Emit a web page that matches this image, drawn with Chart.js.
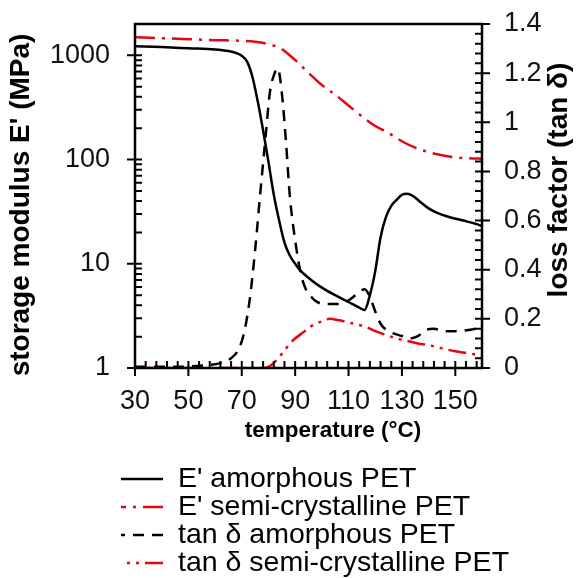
<!DOCTYPE html>
<html>
<head>
<meta charset="utf-8">
<script src="https://cdn.jsdelivr.net/npm/chart.js@4.4.1/dist/chart.umd.min.js"></script>
<style>
  html, body { margin: 0; padding: 0; background: #fff; }
</style>
</head>
<body>
<canvas id="dmaChart" width="576" height="578"></canvas>
<script>
// data
const tempEAm = [30,40,50,60,65,68,70,72,74,76,78,80,82,84,86,88,90,92,96,100,105,110,114,116,118,120,122,124,126,128,130,132,134,137,140,143,148,153,158,160];
const eAmorphous = [1220,1200,1170,1140,1100,1050,990,870,620,360,190,95,46,26,16,12,10,8.6,7,5.9,5,4.3,3.8,3.6,5,8.5,18,28,36,41,46,47,45,39,34,31,28,26,24,23];

const tempESc = [30,40,50,60,70,75,80,85,90,95,100,105,110,115,120,125,130,135,140,145,150,155,160];
const eSemi = [1490,1460,1430,1400,1380,1350,1280,1150,900,680,520,420,330,260,210,180,150,130,118,110,105,103,102];

const tempTAm = [30,45,55,62,66,69,71,73,75,77,79,80.5,82,83.5,85,86.5,88,90,92,94,96,98,101,106,110,113,116,118,120,122,125,130,133,136,139,142,146,150,155,160];
const tanAmorphous = [0.005,0.005,0.01,0.02,0.04,0.08,0.15,0.28,0.48,0.72,0.95,1.12,1.19,1.22,1.12,0.93,0.70,0.52,0.39,0.32,0.29,0.27,0.26,0.26,0.275,0.3,0.32,0.29,0.23,0.18,0.15,0.13,0.12,0.13,0.155,0.16,0.15,0.15,0.155,0.165];

const tempTSc = [30,78,80,82,84,86,88,90,93,96,100,103,106,110,114,117,120,124,128,132,136,140,145,150,155,160];
const tanSemi = [0,0,0.005,0.02,0.045,0.07,0.1,0.12,0.145,0.17,0.19,0.2,0.195,0.185,0.175,0.165,0.15,0.135,0.12,0.11,0.1,0.093,0.08,0.068,0.06,0.05];

const xTicks = [30,50,70,90,110,130,150];
const yTicks = [1,10,100,1000];
const y2Ticks = [0,0.2,0.4,0.6,0.8,1,1.2,1.4];

const legendLabels = ["E' amorphous PET", "E' semi-crystalline PET", "tan \u03b4 amorphous PET", "tan \u03b4 semi-crystalline PET"];

const FONT = '"Liberation Sans", Arial, sans-serif';
const RED = '#e30613';
const DASH_DOT = [20, 7, 3, 7];
const DASH = [11, 8];
const DASH_DOT_DOT = [18, 6, 3, 6, 3, 6];

Chart.defaults.font.family = FONT;
Chart.defaults.color = '#111';

function pts(xs, ys) {
    return xs.map((t, i) => ({ x: t, y: ys[i] }));
}

// fixed box for a vertical axis, no extra room for the end labels
function fixWidth(w) {
    return s => {
        s.width = w;
        s.paddingTop = 0;
        s.paddingBottom = 0;
    };
}

// frame + tick marks (majors cross the axis, minors point inwards)
const frameTicks = {
    id: 'frameTicks',
    afterDatasetsDraw(chart) {
        const { ctx, chartArea: a, scales: { x, y, y2 } } = chart;
        ctx.save();
        ctx.strokeStyle = '#000';
        ctx.lineWidth = 2;
        ctx.beginPath();
        for (let t = 30; t < 160; t += 4) {
            const px = x.getPixelForValue(t);
            const major = xTicks.includes(t);
            ctx.moveTo(px, a.bottom + (major ? 8 : 0));
            ctx.lineTo(px, a.bottom - 7);
        }
        for (let d = 1; d <= 1000; d *= 10) {
            for (let m = 1; m <= 9; m++) {
                const v = d * m;
                if (v > 1000) break;
                const py = y.getPixelForValue(v);
                ctx.moveTo(a.left - (m === 1 ? 8 : 0), py);
                ctx.lineTo(a.left + 7, py);
            }
        }
        for (let i = 0; i <= 35; i++) {
            const v = i * 0.04;
            const py = y2.getPixelForValue(v);
            const major = i % 5 === 0;
            ctx.moveTo(a.right - 7, py);
            ctx.lineTo(a.right + (major ? 8 : 0), py);
        }
        ctx.stroke();
        ctx.lineWidth = 2.5;
        ctx.strokeRect(a.left, a.top, a.right - a.left, a.bottom - a.top);
        ctx.restore();
    }
};

// axis titles and the legend block under the plot
const titlesLegend = {
    id: 'titlesLegend',
    afterDraw(chart) {
        const ctx = chart.ctx;
        ctx.save();
        ctx.fillStyle = '#000';
        ctx.textAlign = 'center';
        ctx.textBaseline = 'middle';
        ctx.font = 'bold 22.5px ' + FONT;
        ctx.fillText('temperature (\u00b0C)', 333, 431);

        ctx.font = 'bold 28px ' + FONT;
        ctx.save();
        ctx.translate(21, 205);
        ctx.rotate(-Math.PI / 2);
        ctx.fillText("storage modulus E' (MPa)", 0, 0);
        ctx.restore();
        ctx.save();
        ctx.translate(559, 180);
        ctx.rotate(-Math.PI / 2);
        ctx.fillText('loss factor (tan \u03b4)', 0, 0);
        ctx.restore();

        const styles = [
            { color: '#000', dash: [] },
            { color: RED, dash: DASH_DOT },
            { color: '#000', dash: DASH },
            { color: RED, dash: DASH_DOT_DOT }
        ];
        ctx.font = '28.5px ' + FONT;
        ctx.textAlign = 'left';
        legendLabels.forEach((txt, i) => {
            const yy = 479 + i * 28;
            ctx.strokeStyle = styles[i].color;
            ctx.lineWidth = 2.5;
            ctx.setLineDash(styles[i].dash);
            ctx.beginPath();
            ctx.moveTo(163, yy);
            ctx.lineTo(121, yy);
            ctx.stroke();
            ctx.setLineDash([]);
            ctx.fillStyle = '#000';
            ctx.fillText(txt, 178, yy);
        });
        ctx.restore();
    }
};

const ctx = document.getElementById('dmaChart');

new Chart(ctx, {
    type: 'line',
    data: {
        datasets: [{
            label: legendLabels[0],
            data: pts(tempEAm, eAmorphous),
            yAxisID: 'y',
            borderColor: '#000',
            borderWidth: 2.5
        },
        {
            label: legendLabels[1],
            data: pts(tempESc, eSemi),
            yAxisID: 'y',
            borderColor: RED,
            borderWidth: 2.5,
            borderDash: DASH_DOT
        },
        {
            label: legendLabels[2],
            data: pts(tempTAm, tanAmorphous),
            yAxisID: 'y2',
            borderColor: '#000',
            borderWidth: 2.5,
            borderDash: DASH
        },
        {
            label: legendLabels[3],
            data: pts(tempTSc, tanSemi),
            yAxisID: 'y2',
            borderColor: RED,
            borderWidth: 2.5,
            borderDash: DASH_DOT_DOT
        }]
    },
    options: {
        responsive: false,
        animation: false,
        layout: { padding: { top: 24, left: 0, right: 0, bottom: 0 } },
        elements: {
            point: { radius: 0 },
            line: { cubicInterpolationMode: 'monotone', fill: false }
        },
        plugins: {
            legend: { display: false },
            tooltip: { enabled: false }
        },
        scales: {
            x: {
                type: 'linear',
                min: 30,
                max: 160,
                grid: { display: false, drawTicks: false },
                border: { display: false },
                afterBuildTicks: s => { s.ticks = xTicks.map(v => ({ value: v })); },
                afterFit: s => { s.height = 210; },
                ticks: {
                    autoSkip: false,
                    maxRotation: 0,
                    padding: 17,
                    font: { size: 27 },
                    callback: v => String(v)
                }
            },
            y: {
                type: 'logarithmic',
                position: 'left',
                min: 1,
                max: 2000,
                grid: { display: false, drawTicks: false },
                border: { display: false },
                afterBuildTicks: s => { s.ticks = yTicks.map(v => ({ value: v })); },
                afterFit: fixWidth(135),
                ticks: {
                    autoSkip: false,
                    padding: 25,
                    font: { size: 27 },
                    callback: v => String(v)
                }
            },
            y2: {
                type: 'linear',
                position: 'right',
                min: 0,
                max: 1.4,
                grid: { display: false, drawTicks: false },
                border: { display: false },
                afterBuildTicks: s => { s.ticks = y2Ticks.map(v => ({ value: v })); },
                afterFit: fixWidth(94),
                ticks: {
                    autoSkip: false,
                    padding: 22,
                    font: { size: 27 },
                    callback: v => String(v)
                }
            }
        }
    },
    plugins: [frameTicks, titlesLegend]
});
</script>
</body>
</html>
